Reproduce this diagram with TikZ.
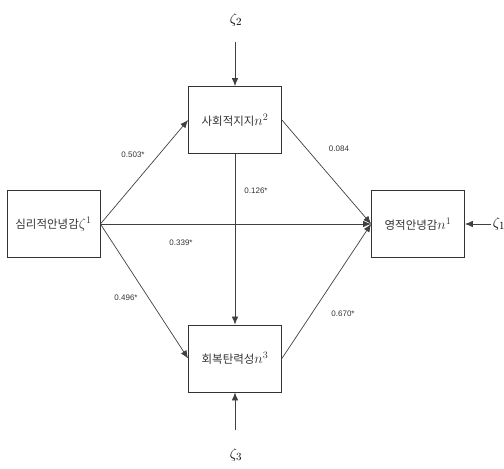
\documentclass[tikz,border=0pt]{standalone}
\usepackage{fontspec}
\setsansfont{Liberation Sans}
\newfontfamily\kr{Noto Sans CJK KR}
\usetikzlibrary{arrows.meta}
\newcommand{\mybigmath}[1]{{\fontsize{14}{16}\selectfont$#1$}}
\begin{document}
\begin{tikzpicture}[x=1pt,y=-1pt,
  box/.style={draw=black!80,line width=0.8pt,minimum width=93pt,minimum height=67pt,inner sep=0pt},
  conn/.style={draw=black!75,line width=0.7pt,-{Latex[length=8pt,width=6.5pt]}},
  coef/.style={font=\sffamily\fontsize{8}{9}\selectfont,text=black!80},
  zeta/.style={font=\fontsize{15}{17}\selectfont},
  ktext/.style={font=\kr\fontsize{11.5}{13}\selectfont,text=black!80}]
\useasboundingbox (0,0) rectangle (504,469);
\node[box] (psy) at (53.5,224) {};
\node[ktext] at (psy) {심리적안녕감\mybigmath{\zeta^{1}}};
\node[box] (soc) at (235,120) {};
\node[ktext] at (soc) {사회적지지\mybigmath{n^{2}}};
\node[box] (res) at (235,358.5) {};
\node[ktext] at (res) {회복탄력성\mybigmath{n^{3}}};
\node[box] (spi) at (418,224) {};
\node[ktext] at (spi) {영적안녕감\mybigmath{n^{1}}};
\node[zeta] (z2) at (236,20) {$\zeta_{2}$};
\node[zeta] (z3) at (236,455) {$\zeta_{3}$};
\node[zeta] (z1) at (499,224) {$\zeta_{1}$};
\coordinate (z2e) at (235,42);
\coordinate (z3e) at (235,430);
\coordinate (z1e) at (491,224);
\draw[conn] (z2e) -- (soc.north);
\draw[conn] (z3e) -- (res.south);
\draw[conn] (z1e) -- (spi.east);
\draw[conn] (psy.east) -- (soc.west);
\draw[conn] (psy.east) -- (res.west);
\draw[conn] (psy.east) -- (spi.west);
\draw[conn] (soc.east) -- (spi.west);
\draw[conn] (res.east) -- (spi.west);
\draw[conn] (soc.south) -- (res.north);
\node[coef] (c1) at (133,155) {0.503*};
\node[coef] (c2) at (339,149) {0.084};
\node[coef] (c3) at (256,191) {0.126*};
\node[coef] (c4) at (181,243) {0.339*};
\node[coef] (c5) at (126,298) {0.496*};
\node[coef] (c6) at (343,314) {0.670*};
\end{tikzpicture}
\end{document}
